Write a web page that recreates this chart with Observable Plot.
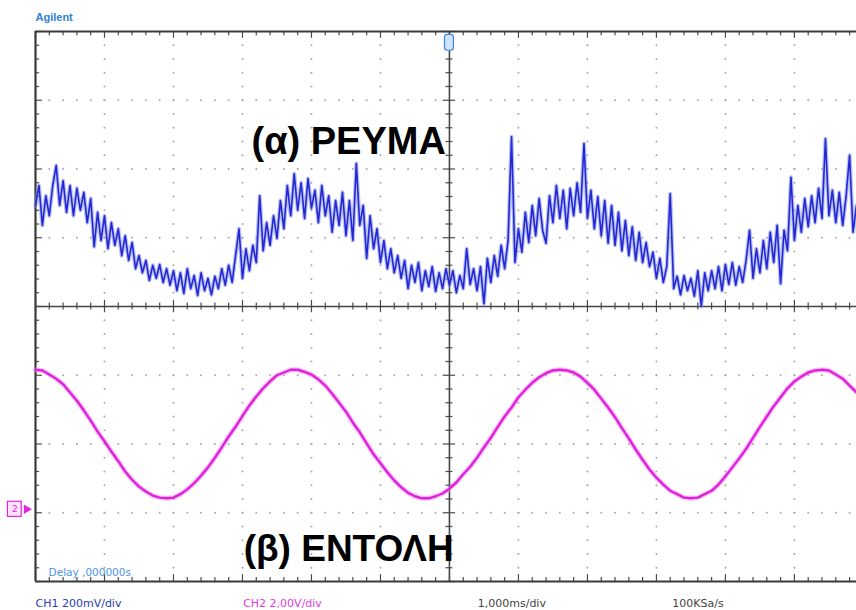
<!DOCTYPE html>
<html><head><meta charset="utf-8">
<script src="https://cdn.jsdelivr.net/npm/d3@7"></script>
<script src="https://cdn.jsdelivr.net/npm/@observablehq/plot@0.6"></script>
<style>html,body{margin:0;padding:0;background:#fff;overflow:hidden}</style>
</head><body><div id="chart"></div>
<script>
// CH1 (current), screen divisions, sampled every 0.05 ms from -6 ms
const ch1Start = -6, ch1Step = 0.05;
const ch1Div = [
1.47,1.76,1.18,1.61,1.32,1.76,2.05,1.47,1.83,1.37,
1.76,1.32,1.72,1.40,1.66,1.22,1.57,0.87,1.37,0.96,
1.32,0.84,1.22,0.89,1.13,0.74,1.03,0.67,0.93,0.55,
0.74,0.49,0.67,0.38,0.60,0.41,0.61,0.35,0.55,0.31,
0.52,0.23,0.49,0.19,0.55,0.26,0.45,0.16,0.49,0.23,
0.41,0.17,0.44,0.26,0.55,0.31,0.60,0.35,0.74,1.13,
0.41,0.84,0.52,0.89,0.64,1.61,0.81,1.22,0.89,1.32,
0.99,1.54,1.13,1.76,1.32,1.93,1.40,1.80,1.28,1.86,
1.43,1.69,1.22,1.76,1.32,1.61,1.08,1.54,1.18,1.66,
1.03,1.54,0.96,2.08,1.18,1.47,0.70,1.32,0.84,1.13,
0.64,0.96,0.55,0.84,0.49,0.74,0.41,0.67,0.26,0.60,
0.35,0.64,0.23,0.52,0.29,0.58,0.22,0.49,0.26,0.55,
0.31,0.52,0.20,0.45,0.26,0.84,0.32,0.55,0.23,0.58,
0.04,0.70,0.35,0.74,0.44,0.89,0.55,0.96,2.47,0.64,
1.13,0.79,1.37,0.93,1.47,1.03,1.57,1.11,0.92,1.61,
1.22,1.76,1.28,1.69,1.13,1.72,1.32,1.80,1.37,2.37,
1.28,1.69,1.13,1.60,1.03,1.54,0.92,1.47,0.89,1.37,
0.81,1.25,0.74,1.16,0.67,1.08,0.64,0.93,0.58,0.79,
0.41,0.70,0.35,0.58,1.64,0.26,0.44,0.17,0.45,0.23,
0.41,0.15,0.52,0.00,0.49,0.23,0.52,0.26,0.58,0.23,
0.61,0.32,0.64,0.31,0.58,0.35,0.67,1.11,0.41,0.84,
0.49,0.96,0.55,1.08,0.64,1.18,0.33,1.11,0.81,1.88,
0.96,1.47,1.08,1.57,1.16,1.61,1.22,1.72,1.28,2.44,
1.32,1.69,1.22,1.66,1.18,1.61,2.20,1.08,1.47
];
// CH2 (command), screen divisions, sampled every 0.1 ms from -6 ms
const ch2Start = -6, ch2Step = 0.1;
const ch2Div = [
-0.92,-0.93,-0.99,-1.05,-1.13,-1.25,-1.37,-1.51,-1.66,-1.82,
-1.96,-2.11,-2.25,-2.40,-2.52,-2.62,-2.69,-2.75,-2.78,-2.79,
-2.78,-2.73,-2.66,-2.57,-2.46,-2.34,-2.20,-2.05,-1.89,-1.75,
-1.59,-1.44,-1.31,-1.19,-1.09,-1.00,-0.96,-0.92,-0.92,-0.95,
-0.99,-1.06,-1.15,-1.27,-1.40,-1.53,-1.69,-1.83,-1.99,-2.15,
-2.28,-2.41,-2.53,-2.63,-2.71,-2.76,-2.79,-2.79,-2.76,-2.72,
-2.65,-2.56,-2.44,-2.33,-2.20,-2.05,-1.91,-1.75,-1.60,-1.47,
-1.32,-1.21,-1.11,-1.03,-0.97,-0.93,-0.92,-0.93,-0.96,-1.02,
-1.11,-1.21,-1.34,-1.47,-1.61,-1.77,-1.92,-2.08,-2.23,-2.37,
-2.49,-2.59,-2.68,-2.73,-2.78,-2.79,-2.78,-2.73,-2.68,-2.59,
-2.47,-2.34,-2.21,-2.07,-1.91,-1.75,-1.60,-1.45,-1.32,-1.19,
-1.09,-1.02,-0.96,-0.93,-0.92,-0.93,-0.99,-1.05,-1.15,-1.25
];
const brandLabel = "Agilent";
const ch1Title = "(α) ΡΕΥΜΑ";
const ch2Title = "(β) ΕΝΤΟΛΗ";
const delayLabel = "Delay ,000000s";
const ch1Scale = "CH1 200mV/div";
const ch2Scale = "CH2 2,00V/div";
const timeScale = "1,000ms/div";
const sampleRate = "100KSa/s";

const ch1 = ch1Div.map((v, i) => ({t: ch1Start + i * ch1Step, v}));
const ch2 = ch2Div.map((v, i) => ({t: ch2Start + i * ch2Step, v}));

// graticule
const minorX = d3.range(-30, 30).map(k => k / 5);
const minorY = d3.range(-20, 21).map(k => k / 5);
const majorX = d3.range(-5, 6).filter(d => d !== 0);
const majorY = d3.range(-3, 4).filter(d => d !== 0);
const isMajor = d => Math.abs(d - Math.round(d)) < 1e-6;
const gridDots = [];
for (const gx of majorX) for (const y of minorY) if (Math.abs(y) < 4) gridDots.push({x: gx, y});
for (const gy of majorY) for (const x of minorX) if (x > -6) gridDots.push({x, y: gy});

const F = "'Liberation Sans', Arial, sans-serif";
const S = "'DejaVu Sans', Verdana, sans-serif";

const chart = Plot.plot({
  width: 856, height: 610,
  marginLeft: 35, marginRight: 0, marginTop: 31, marginBottom: 29,
  x: {domain: [-6, 5.9], axis: null},
  y: {domain: [-4, 4], axis: null},
  style: {background: "#fff"},
  marks: [
    Plot.dot(gridDots, {x: "x", y: "y", r: 1, fill: "#a8a8a8", stroke: null}),
    // center axes
    Plot.ruleY([0], {stroke: "#454545", strokeWidth: 1.6}),
    Plot.ruleX([0], {stroke: "#454545", strokeWidth: 1.6}),
    Plot.ruleX(minorX, {x: d => d, y1: d => isMajor(d) ? -0.09 : -0.05, y2: d => isMajor(d) ? 0.09 : 0.05, stroke: "#4a4a4a", strokeWidth: 1.2}),
    Plot.ruleY(minorY, {y: d => d, x1: d => isMajor(d) ? -0.09 : -0.05, x2: d => isMajor(d) ? 0.09 : 0.05, stroke: "#4a4a4a", strokeWidth: 1.2}),
    // border ticks
    Plot.ruleX(minorX, {x: d => d, y1: 4, y2: d => isMajor(d) ? 3.9 : 3.94, stroke: "#4a4a4a", strokeWidth: 1.2}),
    Plot.ruleX(minorX, {x: d => d, y1: -4, y2: d => isMajor(d) ? -3.9 : -3.94, stroke: "#4a4a4a", strokeWidth: 1.2}),
    Plot.ruleY(minorY, {y: d => d, x1: -6, x2: d => isMajor(d) ? -5.9 : -5.94, stroke: "#4a4a4a", strokeWidth: 1.2}),
    // frame
    Plot.ruleY([4, -4], {stroke: "#3a3a3a", strokeWidth: 2.2}),
    Plot.ruleX([-6], {y1: -4, y2: 4, stroke: "#3a3a3a", strokeWidth: 2.2}),
    // traces
    Plot.line(ch2, {x: "t", y: "v", stroke: "#f08cee", strokeWidth: 5, strokeOpacity: 0.5}),
    Plot.line(ch2, {x: "t", y: "v", stroke: "#e020dc", strokeWidth: 2.4}),
    Plot.line(ch1, {x: "t", y: "v", stroke: "#7b8cf2", strokeWidth: 4, strokeOpacity: 0.55}),
    Plot.line(ch1, {x: "t", y: "v", stroke: "#2528d0", strokeWidth: 1.6}),
    // markers
    Plot.rect([0], {x1: -0.065, x2: 0.065, y1: 3.72, y2: 3.95, fill: "#cfe2ff", stroke: "#3d84e6", strokeWidth: 1.2, rx: 3}),
    Plot.rect([0], {x1: -6.4, x2: -6.2, y1: -2.84, y2: -3.06, fill: "#fbe4fb", stroke: "#e026dc", strokeWidth: 1.2}),
    Plot.dot([0], {x: -6.13, y: -2.95, symbol: "triangle", r: 3.5, rotate: 90, fill: "#e026dc", stroke: null}),
    Plot.text(["2"], {x: -6.3, y: -2.95, fill: "#e026dc", fontSize: 9, fontFamily: S, textAnchor: "middle"}),
    // texts
    Plot.text([brandLabel], {x: -6, y: 4.2, textAnchor: "start", fill: "#2f7fdc", fontSize: 11, fontWeight: "bold", fontFamily: F}),
    Plot.text([ch1Title], {x: -1.46, y: 2.39, textAnchor: "middle", fill: "#000", fontSize: 38, fontWeight: "bold", fontFamily: F}),
    Plot.text([ch2Title], {x: -1.46, y: -3.535, textAnchor: "middle", fill: "#000", fontSize: 37, fontWeight: "bold", fontFamily: F}),
    Plot.text([delayLabel], {x: -5.81, y: -3.87, textAnchor: "start", fill: "#4a94e6", fontSize: 10.5, fontFamily: S}),
    Plot.text([ch1Scale], {x: -6, y: -4.32, textAnchor: "start", fill: "#2c3cb8", fontSize: 11, fontFamily: S}),
    Plot.text([ch2Scale], {x: -2.99, y: -4.32, textAnchor: "start", fill: "#e040e0", fontSize: 11, fontFamily: S}),
    Plot.text([timeScale], {x: 0.41, y: -4.32, textAnchor: "start", fill: "#444", fontSize: 11, fontFamily: S}),
    Plot.text([sampleRate], {x: 3.23, y: -4.32, textAnchor: "start", fill: "#444", fontSize: 11, fontFamily: S})
  ]
});
document.getElementById("chart").appendChild(chart);
</script>
</body></html>
